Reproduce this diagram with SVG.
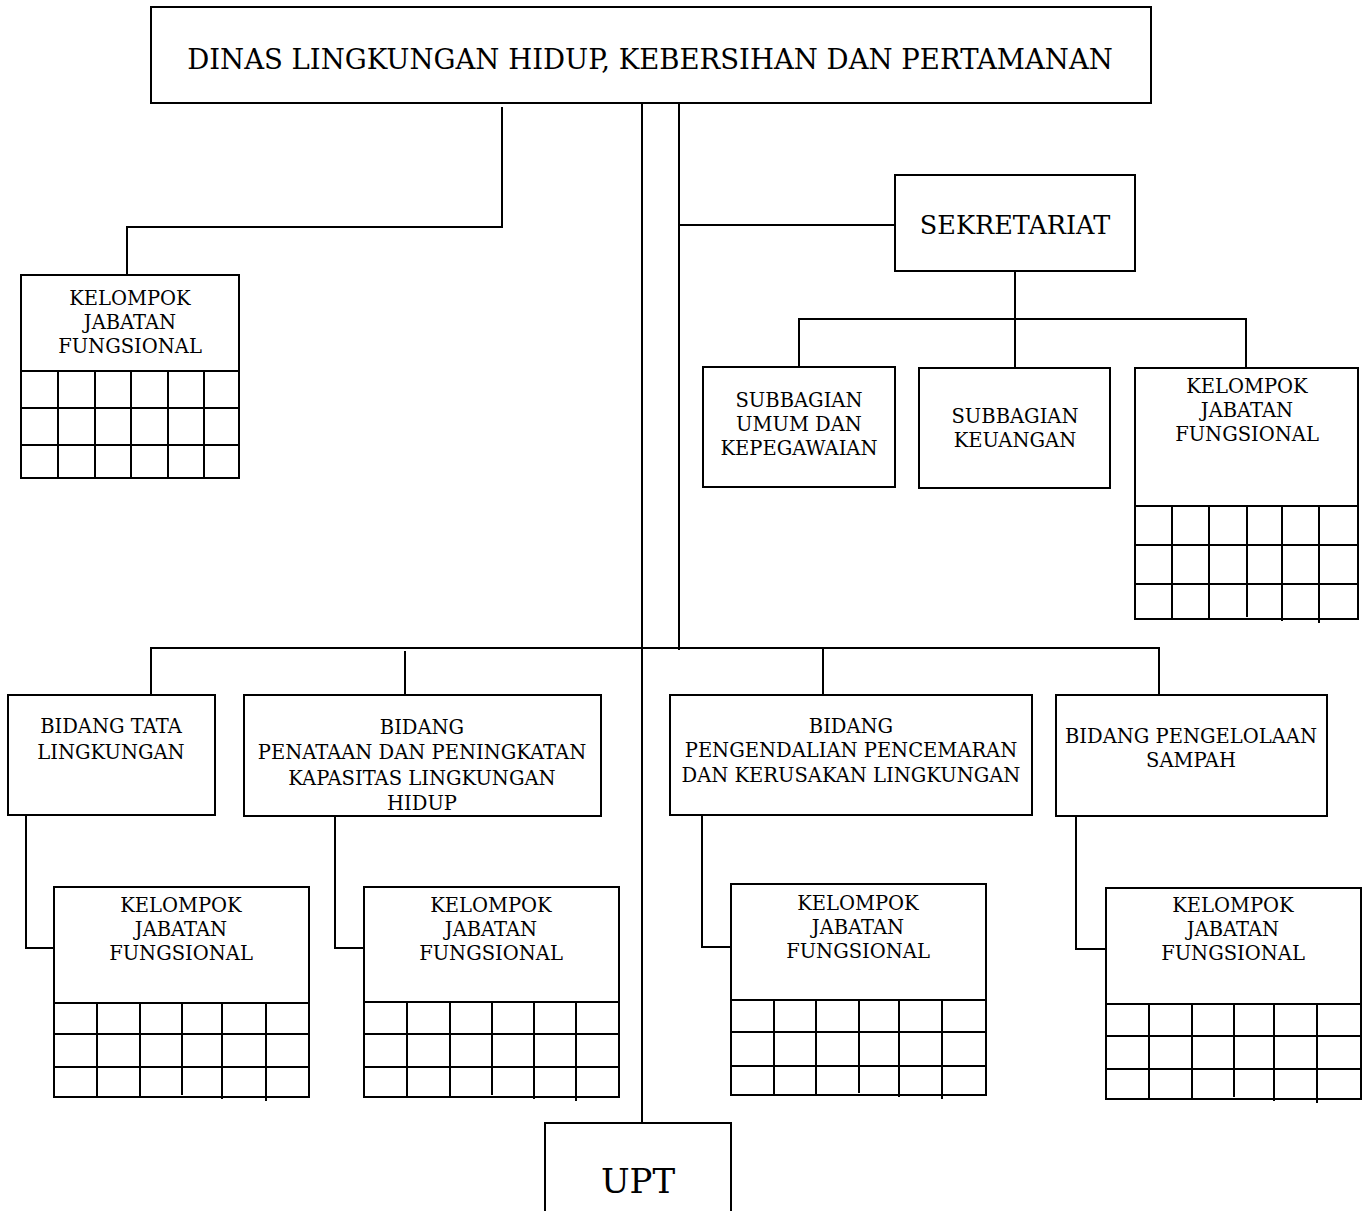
<svg xmlns="http://www.w3.org/2000/svg" width="1370" height="1211" viewBox="0 0 1370 1211">
  <style>
    .box { fill: #fff; stroke: #000; stroke-width: 2; }
    .ln { fill: none; stroke: #000; stroke-width: 2; }
    .grid { fill: none; stroke: #000; stroke-width: 2; }
    text { font-family: "DejaVu Serif", "Liberation Serif", serif; fill: #000; text-anchor: middle; }
    .t20 { font-size: 19.5px; }
    .t24 { font-size: 25.5px; }
    .t27 { font-size: 27.5px; }
    .t34 { font-size: 34px; }
  </style>
  <rect width="1370" height="1211" fill="#fff"/>

  <!-- connectors -->
  <g id="connectors">
    <!-- head to left functional group -->
    <polyline class="ln" points="502,107 502,227 127,227 127,275"/>
    <!-- main trunk down to UPT -->
    <line class="ln" x1="642" y1="103" x2="642" y2="1123"/>
    <!-- second trunk to secretariat and bidang bus -->
    <line class="ln" x1="679" y1="103" x2="679" y2="650"/>
    <line class="ln" x1="679" y1="225" x2="895" y2="225"/>
    <!-- secretariat children -->
    <line class="ln" x1="1015" y1="271" x2="1015" y2="367"/>
    <polyline class="ln" points="799,367 799,319 1246,319 1246,368"/>
    <!-- bidang bus -->
    <polyline class="ln" points="151,695 151,648 1159,648 1159,695"/>
    <line class="ln" x1="405" y1="651" x2="405" y2="695"/>
    <line class="ln" x1="823" y1="648" x2="823" y2="695"/>
    <!-- bidang to functional groups -->
    <polyline class="ln" points="26,815 26,948 54,948"/>
    <polyline class="ln" points="335,816 335,948 364,948"/>
    <polyline class="ln" points="702,815 702,947 731,947"/>
    <polyline class="ln" points="1076,816 1076,949 1106,949"/>
  </g>

  <g id="dinas">
    <rect class="box" x="151" y="7" width="1000" height="96"/>
    <text class="t27" x="650" y="69">DINAS LINGKUNGAN HIDUP, KEBERSIHAN DAN PERTAMANAN</text>
  </g>

  <g id="kjf-dinas">
    <rect class="box" x="21" y="275" width="218" height="203"/>
    <path class="grid" d="M21,371H239M21,408H239M21,445H239M58,371V478M95,371V478M131,371V478M168,371V478M204,371V478"/>
    <text class="t20" x="130" y="305">KELOMPOK</text>
    <text class="t20" x="130" y="329">JABATAN</text>
    <text class="t20" x="130" y="353">FUNGSIONAL</text>
  </g>

  <g id="sekretariat">
    <rect class="box" x="895" y="175" width="240" height="96"/>
    <text class="t24" x="1015" y="234">SEKRETARIAT</text>
  </g>

  <g id="subbagian-umum">
    <rect class="box" x="703" y="367" width="192" height="120"/>
    <text class="t20" x="799" y="407">SUBBAGIAN</text>
    <text class="t20" x="799" y="431">UMUM DAN</text>
    <text class="t20" x="799" y="455">KEPEGAWAIAN</text>
  </g>

  <g id="subbagian-keuangan">
    <rect class="box" x="919" y="368" width="191" height="120"/>
    <text class="t20" x="1015" y="423">SUBBAGIAN</text>
    <text class="t20" x="1015" y="447">KEUANGAN</text>
  </g>

  <g id="kjf-sekretariat">
    <rect class="box" x="1135" y="368" width="223" height="251"/>
    <path class="grid" d="M1135,506H1358M1135,545H1358M1135,584H1358M1172,506V619M1209,506V619M1247,506V617M1282,506V621M1319,506V623"/>
    <text class="t20" x="1247" y="393">KELOMPOK</text>
    <text class="t20" x="1247" y="417">JABATAN</text>
    <text class="t20" x="1247" y="441">FUNGSIONAL</text>
  </g>

  <g id="bidang-tata">
    <rect class="box" x="8" y="695" width="207" height="120"/>
    <text class="t20" x="111" y="733">BIDANG TATA</text>
    <text class="t20" x="111" y="759">LINGKUNGAN</text>
  </g>

  <g id="bidang-penataan">
    <rect class="box" x="244" y="695" width="357" height="121"/>
    <text class="t20" x="422" y="734">BIDANG</text>
    <text class="t20" x="422" y="759">PENATAAN DAN PENINGKATAN</text>
    <text class="t20" x="422" y="785">KAPASITAS LINGKUNGAN</text>
    <text class="t20" x="422" y="810">HIDUP</text>
  </g>

  <g id="bidang-pengendalian">
    <rect class="box" x="670" y="695" width="362" height="120"/>
    <text class="t20" x="851" y="733">BIDANG</text>
    <text class="t20" x="851" y="757">PENGENDALIAN PENCEMARAN</text>
    <text class="t20" x="851" y="782">DAN KERUSAKAN LINGKUNGAN</text>
  </g>

  <g id="bidang-sampah">
    <rect class="box" x="1056" y="695" width="271" height="121"/>
    <text class="t20" x="1191" y="743">BIDANG PENGELOLAAN</text>
    <text class="t20" x="1191" y="767">SAMPAH</text>
  </g>

  <g id="kjf-tata">
    <rect class="box" x="54" y="887" width="255" height="210"/>
    <path class="grid" d="M54,1003H309M54,1034H309M54,1067H309M97,1003V1097M140,1003V1097M182,1003V1095M222,1003V1099M266,1003V1101"/>
    <text class="t20" x="181" y="912">KELOMPOK</text>
    <text class="t20" x="181" y="936">JABATAN</text>
    <text class="t20" x="181" y="960">FUNGSIONAL</text>
  </g>

  <g id="kjf-penataan">
    <rect class="box" x="364" y="887" width="255" height="210"/>
    <path class="grid" d="M364,1002H619M364,1034H619M364,1067H619M407,1002V1097M450,1002V1097M492,1002V1095M534,1002V1099M576,1002V1101"/>
    <text class="t20" x="491" y="912">KELOMPOK</text>
    <text class="t20" x="491" y="936">JABATAN</text>
    <text class="t20" x="491" y="960">FUNGSIONAL</text>
  </g>

  <g id="kjf-pengendalian">
    <rect class="box" x="731" y="884" width="255" height="211"/>
    <path class="grid" d="M731,1000H986M731,1032H986M731,1066H986M774,1000V1095M816,1000V1095M859,1000V1093M899,1000V1097M942,1000V1099"/>
    <text class="t20" x="858" y="910">KELOMPOK</text>
    <text class="t20" x="858" y="934">JABATAN</text>
    <text class="t20" x="858" y="958">FUNGSIONAL</text>
  </g>

  <g id="kjf-sampah">
    <rect class="box" x="1106" y="888" width="255" height="211"/>
    <path class="grid" d="M1106,1004H1361M1106,1036H1361M1106,1069H1361M1149,1004V1099M1192,1004V1099M1234,1004V1097M1274,1004V1101M1317,1004V1103"/>
    <text class="t20" x="1233" y="912">KELOMPOK</text>
    <text class="t20" x="1233" y="936">JABATAN</text>
    <text class="t20" x="1233" y="960">FUNGSIONAL</text>
  </g>

  <g id="upt">
    <path class="box" d="M545,1213V1123H731V1213"/>
    <text class="t34" x="638" y="1193">UPT</text>
  </g>
</svg>
